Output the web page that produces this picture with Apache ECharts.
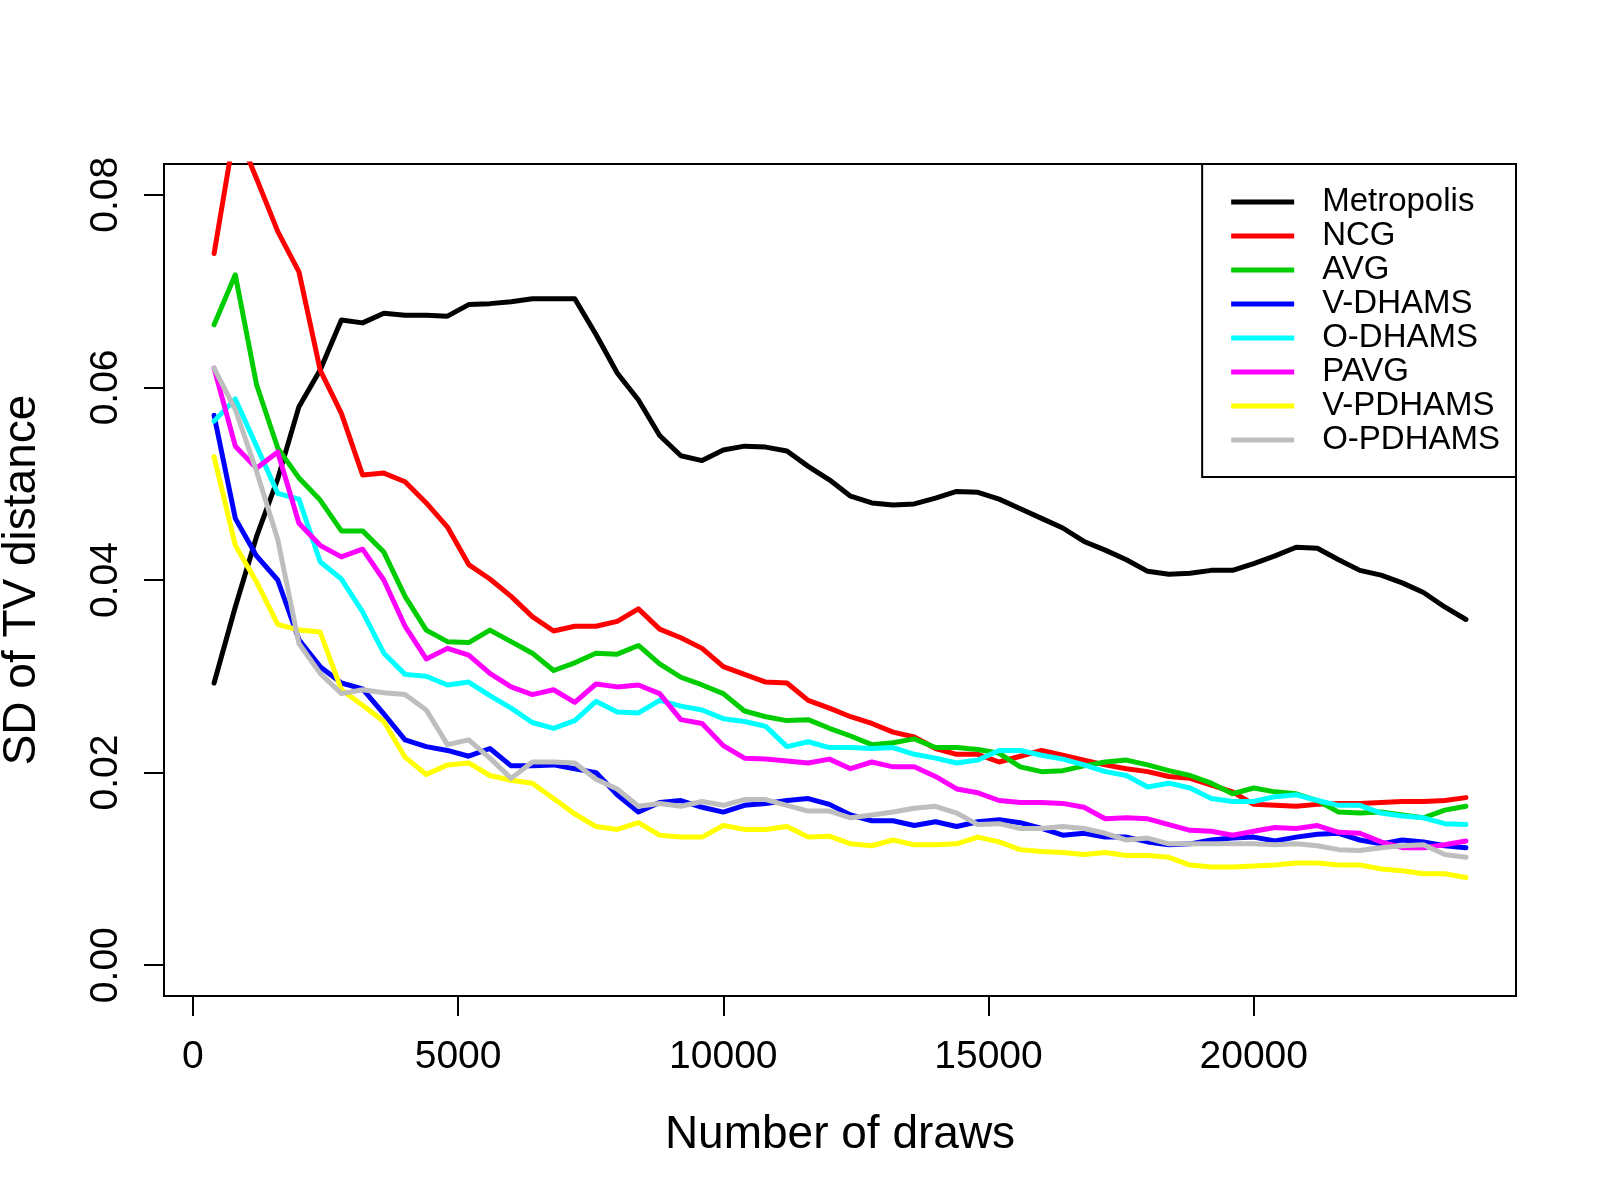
<!DOCTYPE html>
<html>
<head>
<meta charset="utf-8">
<script src="https://cdn.jsdelivr.net/npm/echarts@6/dist/echarts.min.js"></script>
<style>
html,body{margin:0;padding:0;background:#fff;}
#chart{width:1600px;height:1200px;}
</style>
</head>
<body>
<div id="chart"></div>
<script>
const draws = [400,800,1200,1600,2000,2400,2800,3200,3600,4000,4400,4800,5200,5600,6000,6400,6800,7200,7600,8000,
  8400,8800,9200,9600,10000,10400,10800,11200,11600,12000,12400,12800,13200,13600,14000,14400,14800,15200,15600,16000,
  16400,16800,17200,17600,18000,18400,18800,19200,19600,20000,20400,20800,21200,21600,22000,22400,22800,23200,23600,24000];

const metropolis = [0.0293,0.0372,0.0445,0.0505,0.0580,0.0618,0.0670,0.0667,0.0677,0.0675,
  0.0675,0.0674,0.0686,0.0687,0.0689,0.0692,0.0692,0.0692,0.0655,0.0615,
  0.0587,0.0550,0.0529,0.0524,0.0535,0.0539,0.0538,0.0534,0.0518,0.0504,
  0.0487,0.0480,0.0478,0.0479,0.0485,0.0492,0.0491,0.0484,0.0474,0.0464,
  0.0454,0.0440,0.0431,0.0421,0.0409,0.0406,0.0407,0.0410,0.0410,0.0417,
  0.0425,0.0434,0.0433,0.0421,0.0410,0.0405,0.0397,0.0387,0.0372,0.0359];

const ncg = [0.0739,0.0870,0.0817,0.0762,0.0720,0.0618,0.0573,0.0509,0.0511,0.0502,
  0.0480,0.0455,0.0416,0.0401,0.0383,0.0362,0.0347,0.0352,0.0352,0.0357,
  0.0370,0.0349,0.0340,0.0329,0.0310,0.0302,0.0294,0.0293,0.0275,0.0267,
  0.0258,0.0251,0.0242,0.0237,0.0225,0.0219,0.0219,0.0211,0.0217,0.0223,
  0.0218,0.0213,0.0208,0.0204,0.0201,0.0196,0.0194,0.0187,0.0180,0.0167,
  0.0166,0.0165,0.0167,0.0168,0.0168,0.0169,0.0170,0.0170,0.0171,0.0174];

const avg = [0.0665,0.0717,0.0603,0.0537,0.0506,0.0483,0.0451,0.0451,0.0429,0.0383,
  0.0348,0.0336,0.0335,0.0348,0.0336,0.0324,0.0306,0.0314,0.0324,0.0323,
  0.0332,0.0313,0.0299,0.0291,0.0282,0.0264,0.0258,0.0254,0.0255,0.0246,
  0.0238,0.0229,0.0231,0.0235,0.0226,0.0226,0.0224,0.0220,0.0206,0.0201,
  0.0202,0.0207,0.0211,0.0213,0.0208,0.0202,0.0197,0.0189,0.0178,0.0184,
  0.0180,0.0178,0.0171,0.0159,0.0158,0.0159,0.0156,0.0153,0.0161,0.0165];

const vDhams = [0.0571,0.0464,0.0425,0.0400,0.0338,0.0310,0.0293,0.0287,0.0261,0.0234,
  0.0227,0.0223,0.0217,0.0225,0.0207,0.0207,0.0208,0.0204,0.0200,0.0177,
  0.0159,0.0169,0.0171,0.0164,0.0159,0.0166,0.0168,0.0171,0.0173,0.0167,
  0.0156,0.0150,0.0150,0.0145,0.0149,0.0144,0.0149,0.0151,0.0148,0.0142,
  0.0135,0.0137,0.0133,0.0133,0.0128,0.0125,0.0126,0.0130,0.0132,0.0133,
  0.0129,0.0133,0.0136,0.0137,0.0130,0.0126,0.0130,0.0128,0.0124,0.0122];

const oDhams = [0.0565,0.0588,0.0539,0.0490,0.0484,0.0419,0.0401,0.0367,0.0324,0.0302,
  0.0300,0.0291,0.0294,0.0280,0.0267,0.0252,0.0246,0.0254,0.0274,0.0263,
  0.0262,0.0275,0.0269,0.0265,0.0256,0.0253,0.0248,0.0227,0.0232,0.0226,
  0.0226,0.0225,0.0226,0.0219,0.0215,0.0210,0.0213,0.0223,0.0223,0.0218,
  0.0214,0.0208,0.0201,0.0197,0.0185,0.0189,0.0184,0.0173,0.0170,0.0170,
  0.0175,0.0177,0.0171,0.0166,0.0166,0.0158,0.0155,0.0153,0.0147,0.0146];

const pavg = [0.0620,0.0539,0.0516,0.0533,0.0459,0.0436,0.0424,0.0432,0.0400,0.0352,
  0.0318,0.0329,0.0322,0.0303,0.0289,0.0281,0.0286,0.0273,0.0292,0.0289,
  0.0291,0.0282,0.0255,0.0251,0.0228,0.0215,0.0214,0.0212,0.0210,0.0214,
  0.0204,0.0211,0.0206,0.0206,0.0196,0.0183,0.0179,0.0171,0.0169,0.0169,
  0.0168,0.0164,0.0152,0.0153,0.0152,0.0146,0.0140,0.0139,0.0135,0.0139,
  0.0143,0.0142,0.0145,0.0138,0.0137,0.0128,0.0122,0.0122,0.0125,0.0129];

const vPdhams = [0.0528,0.0436,0.0398,0.0354,0.0348,0.0346,0.0286,0.0270,0.0253,0.0216,
  0.0198,0.0208,0.0210,0.0197,0.0192,0.0189,0.0173,0.0157,0.0144,0.0141,
  0.0148,0.0135,0.0133,0.0133,0.0145,0.0141,0.0141,0.0144,0.0133,0.0134,
  0.0126,0.0124,0.0130,0.0125,0.0125,0.0126,0.0133,0.0128,0.0120,0.0118,
  0.0117,0.0115,0.0117,0.0114,0.0114,0.0112,0.0104,0.0102,0.0102,0.0103,
  0.0104,0.0106,0.0106,0.0104,0.0104,0.0100,0.0098,0.0095,0.0095,0.0091];

const oPdhams = [0.0620,0.0577,0.0513,0.0442,0.0334,0.0303,0.0282,0.0286,0.0283,0.0281,
  0.0265,0.0229,0.0234,0.0215,0.0194,0.0211,0.0211,0.0210,0.0193,0.0183,
  0.0165,0.0168,0.0165,0.0170,0.0166,0.0172,0.0172,0.0166,0.0160,0.0160,
  0.0153,0.0156,0.0159,0.0163,0.0165,0.0158,0.0146,0.0147,0.0142,0.0142,
  0.0144,0.0142,0.0137,0.0130,0.0132,0.0126,0.0126,0.0126,0.0126,0.0126,
  0.0125,0.0126,0.0124,0.0120,0.0119,0.0122,0.0124,0.0125,0.0115,0.0112];

const seriesNames = ['Metropolis','NCG','AVG','V-DHAMS','O-DHAMS','PAVG','V-PDHAMS','O-PDHAMS'];
const seriesColors = ['#000000','#FF0000','#00CD00','#0000FF','#00FFFF','#FF00FF','#FFFF00','#BEBEBE'];
const seriesValues = [metropolis, ncg, avg, vDhams, oDhams, pavg, vPdhams, oPdhams];

const xTicks = [0,5000,10000,15000,20000];
const yTicks = [0,0.02,0.04,0.06,0.08];
const xTitle = 'Number of draws';
const yTitle = 'SD of TV distance';

const FONT = 'Liberation Sans, Arial, Helvetica, sans-serif';

const chart = echarts.init(document.getElementById('chart'), null, {renderer:'canvas'});

const series = seriesNames.map((name, k) => ({
  name: name,
  type: 'line',
  data: draws.map((d, i) => [d, seriesValues[k][i]]),
  symbol: 'none',
  showSymbol: false,
  clip: true,
  color: seriesColors[k],
  itemStyle: {color: seriesColors[k]},
  lineStyle: {color: seriesColors[k], width: 5, cap: 'round', join: 'round'},
  emphasis: {disabled: true},
  z: 2 + k
}));

chart.setOption({
  animation: false,
  backgroundColor: '#ffffff',
  grid: {
    left: 164, top: 164, width: 1352, height: 832,
    show: true, borderColor: '#000', borderWidth: 2, backgroundColor: 'transparent',
    containLabel: false,
    outerBoundsMode: 'none'
  },
  xAxis: {
    type: 'value',
    min: -544, max: 24944,
    axisLine: {show: false, onZero: false},
    splitLine: {show: false},
    axisTick: {show: true, customValues: xTicks, length: 20, inside: false, lineStyle: {color: '#000', width: 2}},
    axisLabel: {customValues: xTicks, fontSize: 39, color: '#000', fontFamily: FONT, margin: 42,
      formatter: v => String(v)},
    name: xTitle, nameLocation: 'middle', nameGap: 116,
    nameTextStyle: {fontSize: 46, color: '#000', fontFamily: FONT}
  },
  yAxis: {
    type: 'value',
    min: -0.0032, max: 0.0832,
    axisLine: {show: false, onZero: false},
    splitLine: {show: false},
    axisTick: {show: true, customValues: yTicks, length: 20, inside: false, lineStyle: {color: '#000', width: 2}},
    axisLabel: {customValues: yTicks, fontSize: 39, color: '#000', fontFamily: FONT, margin: 38, rotate: 90,
      formatter: v => v.toFixed(2)},
    name: yTitle, nameLocation: 'middle', nameGap: 119, nameRotate: 90,
    nameTextStyle: {fontSize: 46, color: '#000', fontFamily: FONT}
  },
  legend: {
    show: true,
    orient: 'vertical',
    right: 84, top: 164,
    data: seriesNames.map(n => ({name: n, icon: 'rect'})),
    backgroundColor: '#ffffff',
    borderColor: '#000', borderWidth: 2, borderRadius: 0,
    padding: [21, 16, 20, 29],
    itemWidth: 63, itemHeight: 5, itemGap: 0,
    selectedMode: false,
    textStyle: {fontSize: 33, color: '#000', fontFamily: FONT, lineHeight: 34, padding: [0,0,0,23]},
    z: 20
  },
  series: series
});
</script>
</body>
</html>
